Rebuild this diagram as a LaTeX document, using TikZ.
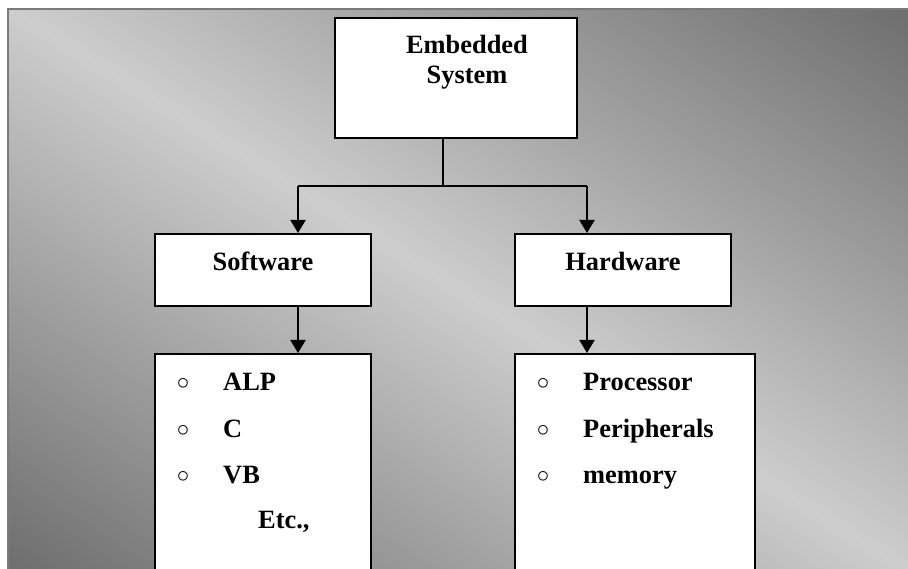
\documentclass[tikz,border=0pt]{standalone}
\usepackage{fontspec}
\setmainfont{Liberation Serif}
\usetikzlibrary{arrows.meta}
\definecolor{bgdark}{HTML}{6E6E6E}
\definecolor{bglight}{HTML}{CDCDCD}
\definecolor{frameline}{HTML}{7A7A7A}
\begin{document}
\begin{tikzpicture}[x=1pt, y=-1pt,
    box/.style={draw=black, line width=2pt, fill=white, inner sep=0pt},
    headtext/.style={font=\fontsize{26.4}{30}\selectfont\bfseries, inner sep=0pt},
    entry/.style={font=\fontsize{26.4}{30}\selectfont\bfseries, inner sep=0pt, anchor=base west},
    bulletmark/.style={font=\fontsize{32}{32}\selectfont, inner sep=0pt},
    link/.style={line width=2pt},
    arr/.style={line width=2pt, -{Triangle[width=15pt, length=13pt]}}]
    \useasboundingbox (0,0) rectangle (908,569);
    \clip (0,0) rectangle (908,569);

    % backdrop
    \begin{scope}
        \clip (8,9) rectangle (930,590);
        \coordinate (mid) at (458,289);
        \shade[transform canvas={rotate around={-32:(mid)}}, top color=bgdark,
            bottom color=bgdark, middle color=bglight]
            ([shift={(-560,-476)}]mid) rectangle ([shift={(560,476)}]mid);
    \end{scope}
    \draw[frameline, line width=2.5pt] (8,9) rectangle (930,590);

    % boxes
    \node[box, minimum width=242pt, minimum height=120pt] (emb) at (456,78) {};
    \node[box, minimum width=216pt, minimum height=72pt] (sw) at (263,270) {};
    \node[box, minimum width=216pt, minimum height=72pt] (hw) at (623,270) {};
    \node[box, minimum width=216pt, minimum height=246pt] (swlist) at (263,477) {};
    \node[box, minimum width=240pt, minimum height=246pt] (hwlist) at (635,477) {};

    \node[headtext, align=center] (embtext) at (467,62) {Embedded\\ System};
    \node[headtext, anchor=base] (swtext) at (263,271) {Software};
    \node[headtext, anchor=base] (hwtext) at (623,271) {Hardware};

    % software list
    \node[bulletmark] (swb1) at (183,384) {$\circ$};
    \node[bulletmark] (swb2) at (183,431) {$\circ$};
    \node[bulletmark] (swb3) at (183,477) {$\circ$};
    \node[entry] (alp) at (223,390) {ALP};
    \node[entry] (clang) at (223,437) {C};
    \node[entry] (vb) at (223,483) {VB};
    \node[entry] (etc) at (258,528) {Etc.,};

    % hardware list
    \node[bulletmark] (hwb1) at (543,384) {$\circ$};
    \node[bulletmark] (hwb2) at (543,431) {$\circ$};
    \node[bulletmark] (hwb3) at (543,477) {$\circ$};
    \node[entry] (proc) at (583,390) {Processor};
    \node[entry] (peri) at (583,437) {Peripherals};
    \node[entry] (mem) at (583,483) {memory};

    % connectors
    \coordinate (split) at (443,186);
    \coordinate (lft) at (298,186);
    \coordinate (rgt) at (587,186);
    \draw[link] (emb.south -| split) -- (split);
    \draw[link] (lft) -- (rgt);
    \draw[arr] (lft) -- (lft |- sw.north);
    \draw[arr] (rgt) -- (rgt |- hw.north);
    \draw[arr] (sw.south -| lft) -- (lft |- swlist.north);
    \draw[arr] (hw.south -| rgt) -- (rgt |- hwlist.north);
\end{tikzpicture}
\end{document}
